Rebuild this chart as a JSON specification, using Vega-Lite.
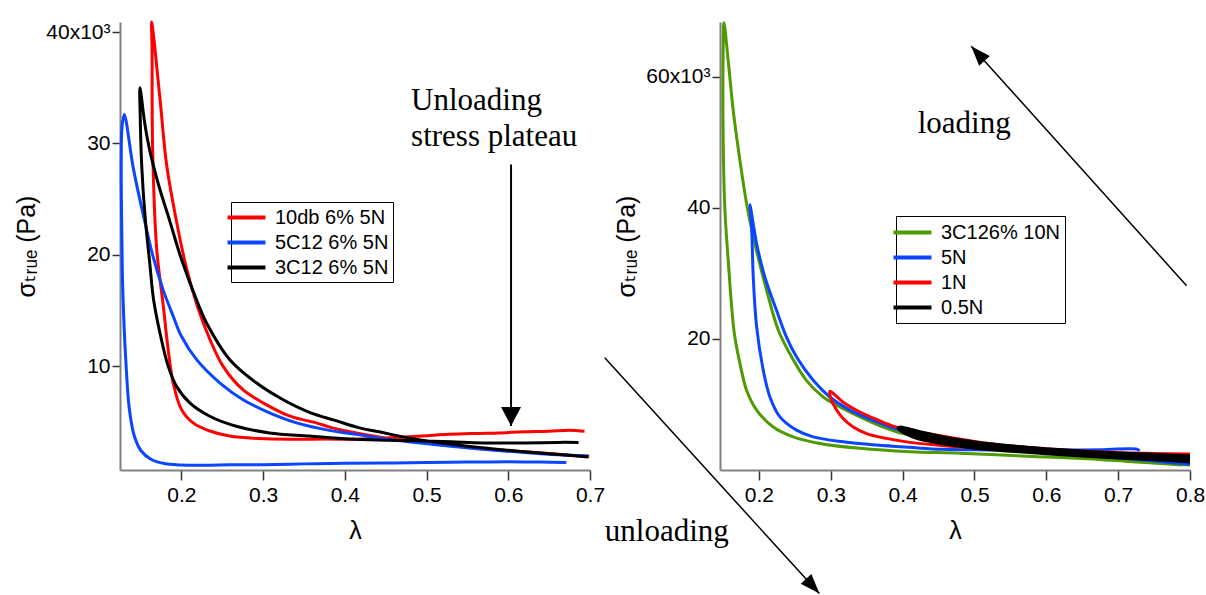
{
  "$schema": "https://vega.github.io/schema/vega-lite/v6.json",
  "background": "white",
  "padding": {"left": 14, "top": 20, "right": 2, "bottom": 0},
  "spacing": 130,
  "bounds": "flush",
  "config": {
    "view": {"stroke": null},
    "font": "Liberation Sans, Arial, sans-serif",
    "axis": {
      "grid": false,
      "domainColor": "#808080",
      "domainWidth": 2,
      "tickColor": "#333333",
      "tickWidth": 1.5,
      "labelFont": "Liberation Sans, Arial, sans-serif",
      "labelFontSize": 21,
      "labelColor": "black",
      "labelFlush": false,
      "labelOverlap": false,
      "titleFont": "Liberation Sans, DejaVu Sans, sans-serif",
      "titleFontSize": 25,
      "titleFontWeight": "normal",
      "titleColor": "black"
    },
    "axisX": {"tickSize": 10, "labelPadding": 4, "titlePadding": 13},
    "axisY": {"tickSize": 8, "labelPadding": 2, "titlePadding": 6}
  },
  "datasets": {
    "left": [
      {"s":"10db 6% 5N","i":1,"x":0.699,"y":1.9},{"s":"10db 6% 5N","i":2,"x":0.675,"y":2.0},{"s":"10db 6% 5N","i":3,"x":0.65,"y":2.15},{"s":"10db 6% 5N","i":4,"x":0.61,"y":2.35},{"s":"10db 6% 5N","i":5,"x":0.57,"y":2.6},{"s":"10db 6% 5N","i":6,"x":0.53,"y":2.85},{"s":"10db 6% 5N","i":7,"x":0.49,"y":3.2},{"s":"10db 6% 5N","i":8,"x":0.45,"y":3.55},{"s":"10db 6% 5N","i":9,"x":0.414,"y":4.0},{"s":"10db 6% 5N","i":10,"x":0.385,"y":4.45},{"s":"10db 6% 5N","i":11,"x":0.365,"y":4.9},{"s":"10db 6% 5N","i":12,"x":0.333,"y":5.5},{"s":"10db 6% 5N","i":13,"x":0.3,"y":6.7},{"s":"10db 6% 5N","i":14,"x":0.275,"y":7.9},{"s":"10db 6% 5N","i":15,"x":0.251,"y":10.0},{"s":"10db 6% 5N","i":16,"x":0.235,"y":12.4},{"s":"10db 6% 5N","i":17,"x":0.2205,"y":15.2},{"s":"10db 6% 5N","i":18,"x":0.2063,"y":18.8},{"s":"10db 6% 5N","i":19,"x":0.1941,"y":23.0},{"s":"10db 6% 5N","i":20,"x":0.182,"y":28.1},{"s":"10db 6% 5N","i":21,"x":0.1738,"y":34.1},{"s":"10db 6% 5N","i":22,"x":0.1637,"y":40.9},
      {"s":"10db 6% 5N","i":23,"x":0.1642,"y":38.6},{"s":"10db 6% 5N","i":24,"x":0.1649,"y":29.6},{"s":"10db 6% 5N","i":25,"x":0.1698,"y":20.6},{"s":"10db 6% 5N","i":26,"x":0.1778,"y":15.5},{"s":"10db 6% 5N","i":27,"x":0.1839,"y":11.5},{"s":"10db 6% 5N","i":28,"x":0.19,"y":8.5},{"s":"10db 6% 5N","i":29,"x":0.2002,"y":6.1},{"s":"10db 6% 5N","i":30,"x":0.2144,"y":4.9},{"s":"10db 6% 5N","i":31,"x":0.2348,"y":4.17},{"s":"10db 6% 5N","i":32,"x":0.2591,"y":3.72},{"s":"10db 6% 5N","i":33,"x":0.2957,"y":3.49},{"s":"10db 6% 5N","i":34,"x":0.3363,"y":3.43},{"s":"10db 6% 5N","i":35,"x":0.3771,"y":3.45},{"s":"10db 6% 5N","i":36,"x":0.4055,"y":3.43},{"s":"10db 6% 5N","i":37,"x":0.44,"y":3.5},{"s":"10db 6% 5N","i":38,"x":0.4665,"y":3.6},{"s":"10db 6% 5N","i":39,"x":0.5,"y":3.75},{"s":"10db 6% 5N","i":40,"x":0.5274,"y":3.87},{"s":"10db 6% 5N","i":41,"x":0.56,"y":3.95},{"s":"10db 6% 5N","i":42,"x":0.5884,"y":4.0},{"s":"10db 6% 5N","i":43,"x":0.62,"y":4.1},{"s":"10db 6% 5N","i":44,"x":0.6494,"y":4.15},{"s":"10db 6% 5N","i":45,"x":0.675,"y":4.25},{"s":"10db 6% 5N","i":46,"x":0.6933,"y":4.15},
      {"s":"5C12 6% 5N","i":1,"x":0.698,"y":1.93},{"s":"5C12 6% 5N","i":2,"x":0.675,"y":2.0},{"s":"5C12 6% 5N","i":3,"x":0.649,"y":2.08},{"s":"5C12 6% 5N","i":4,"x":0.61,"y":2.3},{"s":"5C12 6% 5N","i":5,"x":0.568,"y":2.53},{"s":"5C12 6% 5N","i":6,"x":0.53,"y":2.8},{"s":"5C12 6% 5N","i":7,"x":0.487,"y":3.13},{"s":"5C12 6% 5N","i":8,"x":0.45,"y":3.45},{"s":"5C12 6% 5N","i":9,"x":0.414,"y":3.87},{"s":"5C12 6% 5N","i":10,"x":0.381,"y":4.23},{"s":"5C12 6% 5N","i":11,"x":0.341,"y":4.9},{"s":"5C12 6% 5N","i":12,"x":0.308,"y":5.8},{"s":"5C12 6% 5N","i":13,"x":0.275,"y":7.0},{"s":"5C12 6% 5N","i":14,"x":0.247,"y":8.5},{"s":"5C12 6% 5N","i":15,"x":0.2185,"y":10.6},{"s":"5C12 6% 5N","i":16,"x":0.2,"y":12.7},{"s":"5C12 6% 5N","i":17,"x":0.19,"y":14.5},{"s":"5C12 6% 5N","i":18,"x":0.178,"y":16.8},{"s":"5C12 6% 5N","i":19,"x":0.1656,"y":19.8},{"s":"5C12 6% 5N","i":20,"x":0.1534,"y":23.6},{"s":"5C12 6% 5N","i":21,"x":0.1412,"y":27.8},{"s":"5C12 6% 5N","i":22,"x":0.1302,"y":32.6},
      {"s":"5C12 6% 5N","i":23,"x":0.1275,"y":31.5},{"s":"5C12 6% 5N","i":24,"x":0.1265,"y":28},{"s":"5C12 6% 5N","i":25,"x":0.1272,"y":22},{"s":"5C12 6% 5N","i":26,"x":0.128,"y":18},{"s":"5C12 6% 5N","i":27,"x":0.1295,"y":14.5},{"s":"5C12 6% 5N","i":28,"x":0.1325,"y":10},{"s":"5C12 6% 5N","i":29,"x":0.1365,"y":6.1},{"s":"5C12 6% 5N","i":30,"x":0.1426,"y":3.7},{"s":"5C12 6% 5N","i":31,"x":0.1507,"y":2.4},{"s":"5C12 6% 5N","i":32,"x":0.1629,"y":1.63},{"s":"5C12 6% 5N","i":33,"x":0.1792,"y":1.25},{"s":"5C12 6% 5N","i":34,"x":0.1995,"y":1.12},{"s":"5C12 6% 5N","i":35,"x":0.23,"y":1.1},{"s":"5C12 6% 5N","i":36,"x":0.26,"y":1.15},{"s":"5C12 6% 5N","i":37,"x":0.3,"y":1.15},{"s":"5C12 6% 5N","i":38,"x":0.35,"y":1.22},{"s":"5C12 6% 5N","i":39,"x":0.4,"y":1.28},{"s":"5C12 6% 5N","i":40,"x":0.45,"y":1.3},{"s":"5C12 6% 5N","i":41,"x":0.5,"y":1.35},{"s":"5C12 6% 5N","i":42,"x":0.55,"y":1.38},{"s":"5C12 6% 5N","i":43,"x":0.6,"y":1.42},{"s":"5C12 6% 5N","i":44,"x":0.64,"y":1.38},{"s":"5C12 6% 5N","i":45,"x":0.671,"y":1.35},
      {"s":"3C12 6% 5N","i":1,"x":0.698,"y":1.84},{"s":"3C12 6% 5N","i":2,"x":0.658,"y":2.08},{"s":"3C12 6% 5N","i":3,"x":0.609,"y":2.38},{"s":"3C12 6% 5N","i":4,"x":0.548,"y":2.83},{"s":"3C12 6% 5N","i":5,"x":0.487,"y":3.43},{"s":"3C12 6% 5N","i":6,"x":0.446,"y":4.03},{"s":"3C12 6% 5N","i":7,"x":0.4156,"y":4.5},{"s":"3C12 6% 5N","i":8,"x":0.3893,"y":5.1},{"s":"3C12 6% 5N","i":9,"x":0.3567,"y":5.85},{"s":"3C12 6% 5N","i":10,"x":0.3241,"y":7.0},{"s":"3C12 6% 5N","i":11,"x":0.2917,"y":8.5},{"s":"3C12 6% 5N","i":12,"x":0.2591,"y":10.6},{"s":"3C12 6% 5N","i":13,"x":0.2307,"y":13.9},{"s":"3C12 6% 5N","i":14,"x":0.2205,"y":15.6},{"s":"3C12 6% 5N","i":15,"x":0.2002,"y":19.6},{"s":"3C12 6% 5N","i":16,"x":0.186,"y":23},{"s":"3C12 6% 5N","i":17,"x":0.1717,"y":26.4},{"s":"3C12 6% 5N","i":18,"x":0.1616,"y":29.3},{"s":"3C12 6% 5N","i":19,"x":0.1555,"y":31.7},{"s":"3C12 6% 5N","i":20,"x":0.1494,"y":35.0},
      {"s":"3C12 6% 5N","i":21,"x":0.1497,"y":32.6},{"s":"3C12 6% 5N","i":22,"x":0.1515,"y":28.1},{"s":"3C12 6% 5N","i":23,"x":0.1555,"y":23.6},{"s":"3C12 6% 5N","i":24,"x":0.1616,"y":19.1},{"s":"3C12 6% 5N","i":25,"x":0.166,"y":16},{"s":"3C12 6% 5N","i":26,"x":0.1738,"y":13.0},{"s":"3C12 6% 5N","i":27,"x":0.1839,"y":10},{"s":"3C12 6% 5N","i":28,"x":0.1941,"y":8.2},{"s":"3C12 6% 5N","i":29,"x":0.2104,"y":6.7},{"s":"3C12 6% 5N","i":30,"x":0.2348,"y":5.5},{"s":"3C12 6% 5N","i":31,"x":0.2673,"y":4.6},{"s":"3C12 6% 5N","i":32,"x":0.3079,"y":4.0},{"s":"3C12 6% 5N","i":33,"x":0.3567,"y":3.72},{"s":"3C12 6% 5N","i":34,"x":0.4055,"y":3.45},{"s":"3C12 6% 5N","i":35,"x":0.45,"y":3.35},{"s":"3C12 6% 5N","i":36,"x":0.4868,"y":3.3},{"s":"3C12 6% 5N","i":37,"x":0.53,"y":3.2},{"s":"3C12 6% 5N","i":38,"x":0.568,"y":3.1},{"s":"3C12 6% 5N","i":39,"x":0.62,"y":3.1},{"s":"3C12 6% 5N","i":40,"x":0.66,"y":3.15},{"s":"3C12 6% 5N","i":41,"x":0.686,"y":3.15}
    ],
    "right": [
      {"s":"3C126% 10N","i":1,"x":0.8,"y":0.7},{"s":"3C126% 10N","i":2,"x":0.75,"y":1.1},{"s":"3C126% 10N","i":3,"x":0.7,"y":1.5},{"s":"3C126% 10N","i":4,"x":0.65,"y":2.0},{"s":"3C126% 10N","i":5,"x":0.6,"y":2.55},{"s":"3C126% 10N","i":6,"x":0.55,"y":3.15},{"s":"3C126% 10N","i":7,"x":0.5,"y":3.85},{"s":"3C126% 10N","i":8,"x":0.45,"y":4.6},{"s":"3C126% 10N","i":9,"x":0.4007,"y":5.5},{"s":"3C126% 10N","i":10,"x":0.3729,"y":6.5},{"s":"3C126% 10N","i":11,"x":0.3405,"y":8.06},{"s":"3C126% 10N","i":12,"x":0.3081,"y":9.84},{"s":"3C126% 10N","i":13,"x":0.2894,"y":11.1},{"s":"3C126% 10N","i":14,"x":0.2663,"y":13.6},{"s":"3C126% 10N","i":15,"x":0.2431,"y":17.7},{"s":"3C126% 10N","i":16,"x":0.227,"y":21.3},{"s":"3C126% 10N","i":17,"x":0.2083,"y":28.4},{"s":"3C126% 10N","i":18,"x":0.1944,"y":34.5},{"s":"3C126% 10N","i":19,"x":0.1829,"y":40.6},{"s":"3C126% 10N","i":20,"x":0.1736,"y":47.2},{"s":"3C126% 10N","i":21,"x":0.1643,"y":54.8},{"s":"3C126% 10N","i":22,"x":0.1573,"y":62.4},{"s":"3C126% 10N","i":23,"x":0.1513,"y":68.3},
      {"s":"3C126% 10N","i":24,"x":0.1503,"y":64.9},{"s":"3C126% 10N","i":25,"x":0.1503,"y":49.7},{"s":"3C126% 10N","i":26,"x":0.1527,"y":39.5},{"s":"3C126% 10N","i":27,"x":0.1573,"y":31.9},{"s":"3C126% 10N","i":28,"x":0.1655,"y":21.0},{"s":"3C126% 10N","i":29,"x":0.1736,"y":16.2},{"s":"3C126% 10N","i":30,"x":0.1829,"y":12.1},{"s":"3C126% 10N","i":31,"x":0.1968,"y":9.1},{"s":"3C126% 10N","i":32,"x":0.2199,"y":6.5},{"s":"3C126% 10N","i":33,"x":0.2477,"y":5.0},{"s":"3C126% 10N","i":34,"x":0.2848,"y":4.0},{"s":"3C126% 10N","i":35,"x":0.3405,"y":3.25},{"s":"3C126% 10N","i":36,"x":0.41,"y":2.73},{"s":"3C126% 10N","i":37,"x":0.4796,"y":2.5},{"s":"3C126% 10N","i":38,"x":0.5811,"y":2.0},{"s":"3C126% 10N","i":39,"x":0.6506,"y":1.7},{"s":"3C126% 10N","i":40,"x":0.7202,"y":1.2},{"s":"3C126% 10N","i":41,"x":0.7897,"y":0.7},
      {"s":"5N","i":1,"x":0.8,"y":0.8},{"s":"5N","i":2,"x":0.75,"y":1.3},{"s":"5N","i":3,"x":0.7,"y":1.8},{"s":"5N","i":4,"x":0.65,"y":2.3},{"s":"5N","i":5,"x":0.6,"y":2.85},{"s":"5N","i":6,"x":0.55,"y":3.45},{"s":"5N","i":7,"x":0.5,"y":4.15},{"s":"5N","i":8,"x":0.45,"y":5.0},{"s":"5N","i":9,"x":0.3961,"y":6.03},{"s":"5N","i":10,"x":0.3637,"y":7.3},{"s":"5N","i":11,"x":0.3266,"y":9.1},{"s":"5N","i":12,"x":0.2987,"y":11.1},{"s":"5N","i":13,"x":0.2755,"y":13.65},{"s":"5N","i":14,"x":0.2524,"y":17.2},{"s":"5N","i":15,"x":0.2385,"y":20.2},{"s":"5N","i":16,"x":0.2246,"y":24.3},{"s":"5N","i":17,"x":0.2083,"y":29.4},{"s":"5N","i":18,"x":0.1968,"y":34.5},{"s":"5N","i":19,"x":0.1875,"y":40.46},
      {"s":"5N","i":20,"x":0.1898,"y":37.0},{"s":"5N","i":21,"x":0.1921,"y":29.4},{"s":"5N","i":22,"x":0.1968,"y":21.8},{"s":"5N","i":23,"x":0.206,"y":15.2},{"s":"5N","i":24,"x":0.2153,"y":11.1},{"s":"5N","i":25,"x":0.2292,"y":8.06},{"s":"5N","i":26,"x":0.2524,"y":6.03},{"s":"5N","i":27,"x":0.2755,"y":5.0},{"s":"5N","i":28,"x":0.3172,"y":4.25},{"s":"5N","i":29,"x":0.3637,"y":3.75},{"s":"5N","i":30,"x":0.41,"y":3.4},{"s":"5N","i":31,"x":0.4563,"y":3.1},{"s":"5N","i":32,"x":0.52,"y":3.0},{"s":"5N","i":33,"x":0.58,"y":2.95},{"s":"5N","i":34,"x":0.63,"y":3.0},{"s":"5N","i":35,"x":0.68,"y":3.05},{"s":"5N","i":36,"x":0.725,"y":3.15},{"s":"5N","i":37,"x":0.73,"y":2.9},
      {"s":"1N","i":1,"x":0.8,"y":2.4},{"s":"1N","i":2,"x":0.75,"y":2.45},{"s":"1N","i":3,"x":0.7,"y":2.6},{"s":"1N","i":4,"x":0.65,"y":2.85},{"s":"1N","i":5,"x":0.6,"y":3.15},{"s":"1N","i":6,"x":0.55,"y":3.6},{"s":"1N","i":7,"x":0.5,"y":4.3},{"s":"1N","i":8,"x":0.45,"y":5.2},{"s":"1N","i":9,"x":0.3915,"y":6.5},{"s":"1N","i":10,"x":0.3637,"y":7.66},{"s":"1N","i":11,"x":0.3405,"y":8.8},{"s":"1N","i":12,"x":0.3172,"y":10.3},{"s":"1N","i":13,"x":0.2987,"y":11.97},
      {"s":"1N","i":14,"x":0.3011,"y":10.6},{"s":"1N","i":15,"x":0.3081,"y":9.1},{"s":"1N","i":16,"x":0.3172,"y":7.8},{"s":"1N","i":17,"x":0.3312,"y":6.5},{"s":"1N","i":18,"x":0.3498,"y":5.5},{"s":"1N","i":19,"x":0.3776,"y":4.77},{"s":"1N","i":20,"x":0.41,"y":4.16},{"s":"1N","i":21,"x":0.4472,"y":3.75},{"s":"1N","i":22,"x":0.475,"y":3.5},{"s":"1N","i":23,"x":0.55,"y":3.0},{"s":"1N","i":24,"x":0.62,"y":2.6},{"s":"1N","i":25,"x":0.7,"y":2.25},{"s":"1N","i":26,"x":0.8,"y":1.9},
      {"s":"0.5N","i":1,"x":0.8,"y":1.9},{"s":"0.5N","i":2,"x":0.75,"y":2.1},{"s":"0.5N","i":3,"x":0.7,"y":2.3},{"s":"0.5N","i":4,"x":0.65,"y":2.6},{"s":"0.5N","i":5,"x":0.6,"y":2.95},{"s":"0.5N","i":6,"x":0.55,"y":3.4},{"s":"0.5N","i":7,"x":0.5,"y":4.0},{"s":"0.5N","i":8,"x":0.46,"y":4.7},{"s":"0.5N","i":9,"x":0.43,"y":5.4},{"s":"0.5N","i":10,"x":0.41,"y":5.95},{"s":"0.5N","i":11,"x":0.396,"y":6.3},
      {"s":"0.5N","i":12,"x":0.405,"y":5.7},{"s":"0.5N","i":13,"x":0.42,"y":5.0},{"s":"0.5N","i":14,"x":0.45,"y":4.3},{"s":"0.5N","i":15,"x":0.5,"y":3.5},{"s":"0.5N","i":16,"x":0.55,"y":3.05},{"s":"0.5N","i":17,"x":0.6,"y":2.65},{"s":"0.5N","i":18,"x":0.65,"y":2.3},{"s":"0.5N","i":19,"x":0.7,"y":2.0},{"s":"0.5N","i":20,"x":0.75,"y":1.75},{"s":"0.5N","i":21,"x":0.8,"y":1.4}
    ],
    "arrowsL": [{"n":"plateau","x":0.6034,"y":28.1,"x2":0.6034,"y2":4.62}],
    "textsL": [{"t":"Unloading","x":0.4811,"y":33.0},{"t":"stress plateau","x":0.4811,"y":29.8}],
    "arrowsR": [{"n":"loading","x":0.7953,"y":28.1,"x2":0.4955,"y2":64.7},{"n":"unloading","x":-0.0146,"y":17.1,"x2":0.2841,"y2":-18.95}],
    "textsR": [{"t":"loading","x":0.4209,"y":51.42},{"t":"unloading","x":-0.0146,"y":-10.98}]
  },
  "hconcat": [
    {
      "width": 470,
      "height": 448,
      "layer": [
        {
          "data": {"name": "left"},
          "mark": {"type": "line", "strokeWidth": 3, "strokeJoin": "round", "interpolate": "catmull-rom"},
          "encoding": {
            "x": {"field": "x", "type": "quantitative", "scale": {"domain": [0.125, 0.7], "nice": false, "zero": false},
                  "axis": {"values": [0.2, 0.3, 0.4, 0.5, 0.6, 0.7], "format": ".1f", "title": "λ"}},
            "y": {"field": "y", "type": "quantitative", "scale": {"domain": [0.67, 40.9], "nice": false, "zero": false},
                  "axis": {"values": [10, 20, 30, 40], "labelExpr": "datum.value === 40 ? '40x10³' : datum.label", "title": "σₜᵣᵤₑ (Pa)"}},
            "color": {"field": "s", "type": "nominal",
                      "scale": {"domain": ["10db 6% 5N", "5C12 6% 5N", "3C12 6% 5N"], "range": ["#ff0000", "#0a46ff", "#000000"]},
                      "legend": {"title": null, "orient": "none", "legendX": 111, "legendY": 180, "symbolType": "M-2,0L2,0", "symbolSize": 361, "symbolStrokeWidth": 4, "labelFontSize": 20, "labelFont": "Liberation Sans, Arial, sans-serif", "labelColor": "black", "strokeColor": "black", "fillColor": "white", "padding": 4, "rowPadding": 3, "labelOffset": 17, "labelLimit": 300}},
            "order": {"field": "i", "type": "quantitative"}
          }
        },
        {
          "data": {"name": "arrowsL"},
          "mark": {"type": "rule", "strokeWidth": 2, "color": "black"},
          "encoding": {
            "x": {"field": "x", "type": "quantitative", "scale": {"domain": [0.125, 0.7], "nice": false, "zero": false},
                  "axis": {"values": [0.2, 0.3, 0.4, 0.5, 0.6, 0.7], "format": ".1f", "title": "λ"}},
            "y": {"field": "y", "type": "quantitative", "scale": {"domain": [0.67, 40.9], "nice": false, "zero": false},
                  "axis": {"values": [10, 20, 30, 40], "labelExpr": "datum.value === 40 ? '40x10³' : datum.label", "title": "σₜᵣᵤₑ (Pa)"}},
            "x2": {"field": "x2"},
            "y2": {"field": "y2"}
          }
        },
        {
          "data": {"name": "arrowsL"},
          "mark": {"type": "point", "shape": "M0,0L-1,1.9L1,1.9Z", "size": 400, "filled": true, "color": "black", "opacity": 1, "angle": 180, "strokeWidth": 0},
          "encoding": {
            "x": {"field": "x2", "type": "quantitative", "scale": {"domain": [0.125, 0.7], "nice": false, "zero": false},
                  "axis": {"values": [0.2, 0.3, 0.4, 0.5, 0.6, 0.7], "format": ".1f", "title": "λ"}},
            "y": {"field": "y2", "type": "quantitative", "scale": {"domain": [0.67, 40.9], "nice": false, "zero": false},
                  "axis": {"values": [10, 20, 30, 40], "labelExpr": "datum.value === 40 ? '40x10³' : datum.label", "title": "σₜᵣᵤₑ (Pa)"}}
          }
        },
        {
          "data": {"name": "textsL"},
          "mark": {"type": "text", "font": "Liberation Serif", "fontSize": 31, "align": "left", "baseline": "alphabetic", "color": "black"},
          "encoding": {
            "x": {"field": "x", "type": "quantitative", "scale": {"domain": [0.125, 0.7], "nice": false, "zero": false},
                  "axis": {"values": [0.2, 0.3, 0.4, 0.5, 0.6, 0.7], "format": ".1f", "title": "λ"}},
            "y": {"field": "y", "type": "quantitative", "scale": {"domain": [0.67, 40.9], "nice": false, "zero": false},
                  "axis": {"values": [10, 20, 30, 40], "labelExpr": "datum.value === 40 ? '40x10³' : datum.label", "title": "σₜᵣᵤₑ (Pa)"}},
            "text": {"field": "t"}
          }
        }
      ]
    },
    {
      "width": 470,
      "height": 448,
      "layer": [
        {
          "data": {"name": "right"},
          "mark": {"type": "line", "strokeJoin": "round", "interpolate": "catmull-rom"},
          "encoding": {
            "x": {"field": "x", "type": "quantitative", "scale": {"domain": [0.1458, 0.8], "nice": false, "zero": false},
                  "axis": {"values": [0.2, 0.3, 0.4, 0.5, 0.6, 0.7, 0.8], "format": ".1f", "title": "λ"}},
            "y": {"field": "y", "type": "quantitative", "scale": {"domain": [-0.06, 68.4], "nice": false, "zero": false},
                  "axis": {"values": [20, 40, 60], "labelExpr": "datum.value === 60 ? '60x10³' : datum.label", "title": "σₜᵣᵤₑ (Pa)"}},
            "color": {"field": "s", "type": "nominal",
                      "scale": {"domain": ["3C126% 10N", "5N", "1N", "0.5N"], "range": ["#4f9a00", "#0a46ff", "#ff0000", "#000000"]},
                      "legend": {"title": null, "orient": "none", "legendX": 176, "legendY": 194, "symbolType": "M-2,0L2,0", "symbolSize": 361, "symbolStrokeWidth": 4, "labelFontSize": 20, "labelFont": "Liberation Sans, Arial, sans-serif", "labelColor": "black", "strokeColor": "black", "fillColor": "white", "padding": 5, "rowPadding": 3, "labelOffset": 17, "labelLimit": 300}},
            "strokeWidth": {"condition": {"test": "datum.s === '0.5N'", "value": 6}, "value": 3},
            "order": {"field": "i", "type": "quantitative"}
          }
        },
        {
          "data": {"name": "arrowsR"},
          "mark": {"type": "rule", "strokeWidth": 1.5, "color": "black"},
          "encoding": {
            "x": {"field": "x", "type": "quantitative", "scale": {"domain": [0.1458, 0.8], "nice": false, "zero": false},
                  "axis": {"values": [0.2, 0.3, 0.4, 0.5, 0.6, 0.7, 0.8], "format": ".1f", "title": "λ"}},
            "y": {"field": "y", "type": "quantitative", "scale": {"domain": [-0.06, 68.4], "nice": false, "zero": false},
                  "axis": {"values": [20, 40, 60], "labelExpr": "datum.value === 60 ? '60x10³' : datum.label", "title": "σₜᵣᵤₑ (Pa)"}},
            "x2": {"field": "x2"},
            "y2": {"field": "y2"}
          }
        },
        {
          "data": {"name": "arrowsR"},
          "transform": [{"filter": "datum.n === 'loading'"}],
          "mark": {"type": "point", "shape": "M0,0L-0.8,2.2L0.8,2.2Z", "size": 324, "filled": true, "color": "black", "opacity": 1, "angle": 318, "strokeWidth": 0},
          "encoding": {
            "x": {"field": "x2", "type": "quantitative", "scale": {"domain": [0.1458, 0.8], "nice": false, "zero": false},
                  "axis": {"values": [0.2, 0.3, 0.4, 0.5, 0.6, 0.7, 0.8], "format": ".1f", "title": "λ"}},
            "y": {"field": "y2", "type": "quantitative", "scale": {"domain": [-0.06, 68.4], "nice": false, "zero": false},
                  "axis": {"values": [20, 40, 60], "labelExpr": "datum.value === 60 ? '60x10³' : datum.label", "title": "σₜᵣᵤₑ (Pa)"}}
          }
        },
        {
          "data": {"name": "arrowsR"},
          "transform": [{"filter": "datum.n === 'unloading'"}],
          "mark": {"type": "point", "shape": "M0,0L-0.8,2.2L0.8,2.2Z", "size": 324, "filled": true, "color": "black", "opacity": 1, "angle": 137.8, "strokeWidth": 0},
          "encoding": {
            "x": {"field": "x2", "type": "quantitative", "scale": {"domain": [0.1458, 0.8], "nice": false, "zero": false},
                  "axis": {"values": [0.2, 0.3, 0.4, 0.5, 0.6, 0.7, 0.8], "format": ".1f", "title": "λ"}},
            "y": {"field": "y2", "type": "quantitative", "scale": {"domain": [-0.06, 68.4], "nice": false, "zero": false},
                  "axis": {"values": [20, 40, 60], "labelExpr": "datum.value === 60 ? '60x10³' : datum.label", "title": "σₜᵣᵤₑ (Pa)"}}
          }
        },
        {
          "data": {"name": "textsR"},
          "mark": {"type": "text", "font": "Liberation Serif", "fontSize": 31, "align": "left", "baseline": "alphabetic", "color": "black"},
          "encoding": {
            "x": {"field": "x", "type": "quantitative", "scale": {"domain": [0.1458, 0.8], "nice": false, "zero": false},
                  "axis": {"values": [0.2, 0.3, 0.4, 0.5, 0.6, 0.7, 0.8], "format": ".1f", "title": "λ"}},
            "y": {"field": "y", "type": "quantitative", "scale": {"domain": [-0.06, 68.4], "nice": false, "zero": false},
                  "axis": {"values": [20, 40, 60], "labelExpr": "datum.value === 60 ? '60x10³' : datum.label", "title": "σₜᵣᵤₑ (Pa)"}},
            "text": {"field": "t"}
          }
        }
      ]
    }
  ],
  "resolve": {"scale": {"color": "independent", "x": "independent", "y": "independent"}}
}
